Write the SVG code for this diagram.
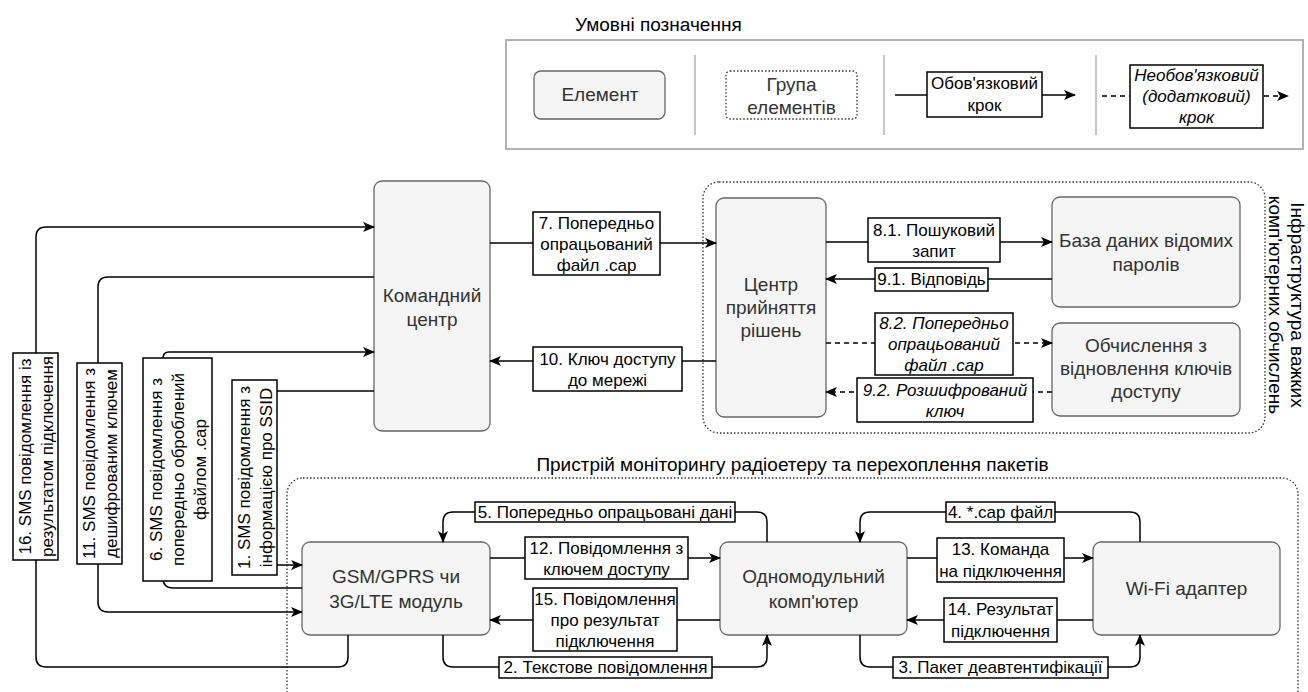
<svg xmlns="http://www.w3.org/2000/svg" width="1308" height="692" viewBox="0 0 1308 692">
<style>
.n rect{fill:#f5f5f5;stroke:#666;stroke-width:1.3}
.nt{font-family:"Liberation Sans",Arial,sans-serif;font-size:19px;fill:#333;text-anchor:middle}
.gt{font-family:"Liberation Sans",Arial,sans-serif;font-size:19px;fill:#000;text-anchor:middle}
.lb rect{fill:#fff;stroke:#000;stroke-width:1.5}
.lt{font-family:"Liberation Sans",Arial,sans-serif;font-size:17px;fill:#000;text-anchor:middle}
.it{font-style:italic}
.e{fill:none;stroke:#000;stroke-width:1.5}
.a{marker-end:url(#arr)}
.d{stroke-dasharray:5 4}
.grp{fill:none;stroke:#333;stroke-width:1.3;stroke-dasharray:1.5 2}
.sep{stroke:#b3b3b3;stroke-width:1.5}
</style>
<defs>
<marker id="arr" markerUnits="userSpaceOnUse" viewBox="0 0 12 10" markerWidth="12" markerHeight="10" refX="11" refY="5" orient="auto">
<path d="M0,0 L12,5 L0,10 L3,5 Z" fill="#000"/>
</marker>
</defs>
<rect width="1308" height="692" fill="#fff"/>

<!-- Legend -->
<g id="legend">
<text x="575" y="31" class="gt" style="text-anchor:start">Умовні позначення</text>
<rect x="506" y="40" width="797" height="109" fill="none" stroke="#b3b3b3" stroke-width="2"/>
<line class="sep" x1="695" y1="55" x2="695" y2="135"/>
<line class="sep" x1="884" y1="55" x2="884" y2="135"/>
<line class="sep" x1="1096" y1="55" x2="1096" y2="135"/>
<g class="n"><rect x="534" y="71" width="131" height="48" rx="7"/></g>
<text x="600" y="101" class="nt">Елемент</text>
<rect x="726" y="71" width="131" height="48" rx="4" class="grp"/>
<text x="791.5" y="91" class="gt" style="fill:#333">Група</text>
<text x="791.5" y="114" class="gt" style="fill:#333">елементів</text>
<path class="e a" d="M895,95 H1075"/>
<g class="lb"><rect x="927" y="72" width="115" height="45"/></g>
<text x="984.5" y="89" class="lt">Обов'язковий</text>
<text x="984.5" y="111" class="lt">крок</text>
<path class="e d a" d="M1102,96 H1288"/>
<g class="lb"><rect x="1130" y="65" width="133" height="63"/></g>
<text x="1196.5" y="81" class="lt it">Необов'язковий</text>
<text x="1196.5" y="102" class="lt it">(додатковий)</text>
<text x="1196.5" y="123" class="lt it">крок</text>
</g>

<!-- Groups -->
<g id="infra-group">
<rect x="703" y="182" width="562" height="251" rx="16" class="grp"/>
<g transform="translate(1286,305) rotate(90)">
<text x="0" y="-4.5" class="gt">Інфраструктура важких</text>
<text x="0" y="17.5" class="gt">комп'ютерних обчислень</text>
</g>
</g>
<g id="device-group">
<rect x="287" y="478" width="1011" height="240" rx="16" class="grp"/>
<text x="792.5" y="471" class="gt">Пристрій моніторингу радіоетеру та перехоплення пакетів</text>
</g>

<!-- Nodes -->
<g id="command-center" class="n">
<rect x="374" y="181" width="116" height="250" rx="8"/>
<text x="432" y="302" class="nt">Командний</text>
<text x="432" y="326" class="nt">центр</text>
</g>
<g id="decision-center" class="n">
<rect x="716" y="198" width="110" height="219" rx="8"/>
<text x="771" y="291" class="nt">Центр</text>
<text x="771" y="314" class="nt">прийняття</text>
<text x="771" y="337" class="nt">рішень</text>
</g>
<g id="password-db" class="n">
<rect x="1052" y="197" width="188" height="110" rx="8"/>
<text x="1146" y="247" class="nt">База даних відомих</text>
<text x="1146" y="271" class="nt">паролів</text>
</g>
<g id="key-recovery" class="n">
<rect x="1052" y="323" width="188" height="93" rx="8"/>
<text x="1146" y="352" class="nt">Обчислення з</text>
<text x="1146" y="375" class="nt">відновлення ключів</text>
<text x="1146" y="398" class="nt">доступу</text>
</g>
<g id="gsm-module" class="n">
<rect x="302" y="542" width="188" height="93" rx="8"/>
<text x="396" y="583" class="nt">GSM/GPRS чи</text>
<text x="396" y="608" class="nt">3G/LTE модуль</text>
</g>
<g id="single-board" class="n">
<rect x="720" y="542" width="187" height="93" rx="8"/>
<text x="813.5" y="583" class="nt">Одномодульний</text>
<text x="813.5" y="608" class="nt">комп'ютер</text>
</g>
<g id="wifi-adapter" class="n">
<rect x="1093" y="542" width="187" height="93" rx="8"/>
<text x="1186.5" y="595" class="nt">Wi-Fi адаптер</text>
</g>

<!-- Connectors -->
<g id="connectors">
<path class="e a" d="M348,635 V657 Q348,667 338,667 H46 Q36,667 36,657 V237 Q36,227 46,227 H374"/>
<path class="e a" d="M374,277 H108 Q98,277 98,287 V602 Q98,612 108,612 H302"/>
<path class="e a" d="M302,588 H173 Q163,588 163,578 V358 Q163,352 169,352 H374"/>
<path class="e a" d="M374,391 H265 Q255,391 255,401 V555 Q255,565 265,565 H302"/>
<path class="e a" d="M490,243 H716"/>
<path class="e a" d="M716,361 H490"/>
<path class="e a" d="M826,242 H1052"/>
<path class="e a" d="M1052,279 H826"/>
<path class="e d a" d="M826,343 H1052"/>
<path class="e d a" d="M1052,392 H826"/>
<path class="e a" d="M767,542 V522 Q767,512 757,512 H453 Q443,512 443,522 V542"/>
<path class="e a" d="M490,558 H720"/>
<path class="e a" d="M720,620 H490"/>
<path class="e a" d="M443,635 V657 Q443,667 453,667 H757 Q767,667 767,657 V635"/>
<path class="e a" d="M1140,542 V522 Q1140,512 1130,512 H870 Q860,512 860,522 V542"/>
<path class="e a" d="M907,558 H1093"/>
<path class="e a" d="M1093,620 H907"/>
<path class="e a" d="M860,635 V657 Q860,667 870,667 H1130 Q1140,667 1140,657 V635"/>

<g id="lbl-16" class="lb" transform="translate(35.5,456.5) rotate(-90)">
<rect x="-103.5" y="-22.5" width="207" height="45"/>
<text x="0" y="-5" class="lt">16. SMS повідомлення із</text>
<text x="0" y="17" class="lt">результатом підключення</text>
</g>
<g id="lbl-11" class="lb" transform="translate(99.5,463.5) rotate(-90)">
<rect x="-100.5" y="-22.5" width="201" height="45"/>
<text x="0" y="-5" class="lt">11. SMS повідомлення з</text>
<text x="0" y="17" class="lt">дешифрованим ключем</text>
</g>
<g id="lbl-6" class="lb" transform="translate(177.5,469.5) rotate(-90)">
<rect x="-111.5" y="-34.5" width="223" height="69"/>
<text x="0" y="-16" class="lt">6. SMS повідомлення з</text>
<text x="0" y="6" class="lt">попередньо оброблений</text>
<text x="0" y="28" class="lt">файлом .cap</text>
</g>
<g id="lbl-1" class="lb" transform="translate(254.5,477.5) rotate(-90)">
<rect x="-97.5" y="-22.5" width="195" height="45"/>
<text x="0" y="-5" class="lt">1. SMS повідомлення з</text>
<text x="0" y="17" class="lt">інформацією про SSID</text>
</g>
<g id="lbl-7" class="lb">
<rect x="533" y="212" width="127" height="63"/>
<text x="596.5" y="228.5" class="lt">7. Попередньо</text>
<text x="596.5" y="249.5" class="lt">опрацьований</text>
<text x="596.5" y="270.5" class="lt">файл .cap</text>
</g>
<g id="lbl-10" class="lb">
<rect x="533" y="347" width="149" height="44"/>
<text x="607.5" y="365" class="lt">10. Ключ доступу</text>
<text x="607.5" y="386" class="lt">до мережі</text>
</g>
<g id="lbl-81" class="lb">
<rect x="868" y="218" width="132" height="44"/>
<text x="934" y="236" class="lt">8.1. Пошуковий</text>
<text x="934" y="257" class="lt">запит</text>
</g>
<g id="lbl-91" class="lb">
<rect x="875" y="268" width="113" height="23"/>
<text x="931.5" y="285" class="lt">9.1. Відповідь</text>
</g>
<g id="lbl-82" class="lb">
<rect x="875" y="313" width="138" height="62"/>
<text x="944" y="329" class="lt it">8.2. Попередньо</text>
<text x="944" y="350" class="lt it">опрацьований</text>
<text x="944" y="371" class="lt it">файл .cap</text>
</g>
<g id="lbl-92" class="lb">
<rect x="857" y="378" width="176" height="44"/>
<text x="945" y="396" class="lt it">9.2. Розшифрований</text>
<text x="945" y="417" class="lt it">ключ</text>
</g>
<g id="lbl-5" class="lb">
<rect x="475" y="502" width="260" height="20"/>
<text x="605" y="518" class="lt">5. Попередньо опрацьовані дані</text>
</g>
<g id="lbl-12" class="lb">
<rect x="525" y="537" width="163" height="42"/>
<text x="606.5" y="553.5" class="lt">12. Повідомлення з</text>
<text x="606.5" y="574.5" class="lt">ключем доступу</text>
</g>
<g id="lbl-15" class="lb">
<rect x="533" y="588" width="144" height="63"/>
<text x="605" y="604.5" class="lt">15. Повідомлення</text>
<text x="605" y="625.5" class="lt">про результат</text>
<text x="605" y="646.5" class="lt">підключення</text>
</g>
<g id="lbl-2" class="lb">
<rect x="499" y="657" width="213" height="21"/>
<text x="605.5" y="673" class="lt">2. Текстове повідомлення</text>
</g>
<g id="lbl-4" class="lb">
<rect x="946" y="502" width="109" height="20"/>
<text x="1000.5" y="518" class="lt">4. *.cap файл</text>
</g>
<g id="lbl-13" class="lb">
<rect x="937" y="538" width="127" height="44"/>
<text x="1000.5" y="555" class="lt">13. Команда</text>
<text x="1000.5" y="577" class="lt">на підключення</text>
</g>
<g id="lbl-14" class="lb">
<rect x="944" y="598" width="113" height="44"/>
<text x="1000.5" y="615" class="lt">14. Результат</text>
<text x="1000.5" y="637" class="lt">підключення</text>
</g>
<g id="lbl-3" class="lb">
<rect x="893" y="657" width="215" height="21"/>
<text x="1000.5" y="673" class="lt">3. Пакет деавтентифікації</text>
</g>
</g>
</svg>
